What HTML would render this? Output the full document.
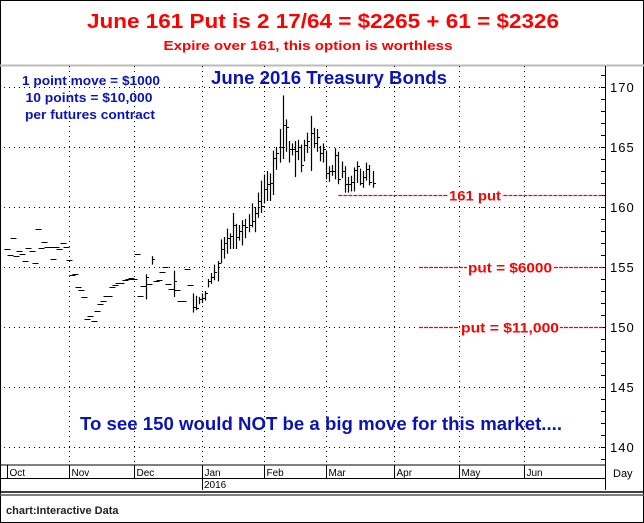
<!DOCTYPE html>
<html><head><meta charset="utf-8"><style>
body{margin:0;background:#fff}
svg{display:block;font-family:"Liberation Sans",Arial,sans-serif}
</style></head><body>
<svg id="chart" width="644" height="523" viewBox="0 0 644 523">
<rect x="0.5" y="0.5" width="643" height="522" fill="#fff" stroke="#000"/>
<text x="323" y="28" text-anchor="middle" font-size="20" font-weight="bold" fill="#ff0000" textLength="472" lengthAdjust="spacingAndGlyphs">June 161 Put is 2 17/64 = $2265 + 61 = $2326</text>
<text x="308" y="50" text-anchor="middle" font-size="13" font-weight="bold" fill="#ff0000" textLength="289" lengthAdjust="spacingAndGlyphs">Expire over 161, this option is worthless</text>
<line x1="0" y1="65.5" x2="644" y2="65.5" stroke="#bbb" stroke-width="2"/>
<g id="grid"></g>
<g id="bars"></g>
<g id="yaxis"></g>
<g id="xaxis"></g>
<text x="91" y="85" text-anchor="middle" font-size="13" font-weight="bold" fill="#0a14b4" textLength="138" lengthAdjust="spacingAndGlyphs">1 point move = $1000</text>
<text x="89" y="102" text-anchor="middle" font-size="13" font-weight="bold" fill="#0a14b4" textLength="127" lengthAdjust="spacingAndGlyphs">10 points = $10,000</text>
<text x="90" y="119" text-anchor="middle" font-size="13" font-weight="bold" fill="#0a14b4" textLength="130" lengthAdjust="spacingAndGlyphs">per futures contract</text>
<text x="329" y="84" text-anchor="middle" font-size="18" font-weight="bold" fill="#0a14b4" textLength="236" lengthAdjust="spacingAndGlyphs">June 2016 Treasury Bonds</text>
<text x="321" y="430" text-anchor="middle" font-size="18" font-weight="bold" fill="#0a14b4" textLength="482" lengthAdjust="spacingAndGlyphs">To see 150 would NOT be a big move for this market....</text>
<g id="puts"></g>
<line x1="0" y1="492" x2="644" y2="492" stroke="#000" stroke-width="1.5"/>
<line x1="0" y1="495" x2="644" y2="495" stroke="#555" stroke-width="1.5"/>
<text x="6" y="514" font-size="11" font-weight="bold" fill="#222">chart:Interactive Data</text>
</svg>
<script>
const highs=[156.5,156.0,157.4,155.9,156.3,156.1,155.5,156.6,156.3,155.3,158.2,156.6,157.1,156.7,156.7,155.7,156.7,156.5,157.0,156.7,155.6,
154.3,154.4,153.3,153.1,152.5,150.7,150.9,150.5,151.3,151.9,152.2,152.6,152.6,153.3,153.5,153.7,153.7,153.9,154.0,154.1,154.0,
156.1,152.6,153.4,154.4,153.6,155.9,153.8,153.9,154.6,155.0,153.6,153.2,154.7,153.1,152.2,152.2,154.8,153.5,152.8,152.6,152.5,
152.8,153.0,154.0,154.5,155.2,155.5,157.3,157.5,158.2,157.8,159.5,158.6,158.5,158.9,159.0,159.4,160.3,160.0,161.2,162.2,
162.7,163.0,162.8,164.7,165.0,166.5,169.3,167.3,165.5,165.3,165.5,165.6,165.2,165.6,166.2,167.6,166.6,166.5,165.1,165.3,
164.7,163.4,163.5,164.9,164.6,163.8,163.4,162.5,162.6,163.3,163.8,163.2,163.0,163.7,163.5,163.0];
const lows=[156.5,156.0,157.4,155.9,156.3,156.1,155.5,156.6,156.3,155.3,158.2,156.6,157.1,156.7,156.7,155.7,156.7,156.5,157.0,156.7,155.6,
154.3,154.4,153.3,153.1,152.5,150.7,150.9,150.5,151.3,151.9,152.2,152.6,152.6,153.3,153.5,153.7,153.7,153.9,154.0,154.1,154.0,
156.1,152.6,153.4,152.3,153.6,155.2,153.8,153.9,154.6,155.0,153.6,153.2,152.5,153.1,152.2,152.2,154.8,153.5,151.2,151.4,151.9,
152.0,152.2,153.3,153.6,153.9,153.8,155.3,155.7,156.1,156.5,156.5,156.5,157.2,156.8,157.4,157.9,158.3,157.9,159.1,159.5,
160.3,160.5,160.5,161.0,163.1,163.7,164.0,164.6,163.7,164.3,162.5,163.9,162.9,163.8,164.5,163.0,164.9,164.6,163.8,163.7,
162.3,162.1,162.6,162.3,161.9,162.4,161.2,161.2,161.3,161.3,162.0,161.8,161.6,162.2,161.8,161.6];
const closes=[156.5,156.0,157.4,155.9,156.3,156.1,155.5,156.6,156.3,155.3,158.2,156.6,157.1,156.7,156.7,155.7,156.7,156.5,157.0,156.7,155.6,
154.3,154.4,153.3,153.1,152.5,150.7,150.9,150.5,151.3,151.9,152.2,152.6,152.6,153.3,153.5,153.7,153.7,153.9,154.0,154.1,154.0,
156.1,152.6,153.4,154.2,153.6,155.7,153.8,153.9,154.6,155.0,153.6,153.2,153.8,153.1,152.2,152.2,154.8,153.5,151.7,151.6,152.3,
152.4,152.8,153.8,154.2,154.6,155.3,156.5,157.0,157.4,157.6,158.5,157.5,158.0,158.5,158.3,158.5,158.8,159.5,160.5,160.1,
161.5,161.9,162.0,164.1,164.5,165.0,166.8,166.7,164.8,164.8,164.7,165.0,163.5,165.2,165.5,166.2,165.3,165.8,164.5,164.8,
162.8,163.0,163.0,164.3,162.3,163.0,161.9,161.9,162.1,163.1,163.4,162.0,162.5,163.2,162.1,162.0];
const months=["Oct","Nov","Dec","Jan","Feb","Mar","Apr","May","Jun"];
const monthStartBar=[0,20,41,63,83,103,125,146,167];
const yTicks=[170,165,160,155,150,145,140];
const putLevels=[161,155,150];
const putLabels=["161 put","put = $6000","put = $11,000"];
const putStartBar=[107,133,133];

const NS="http://www.w3.org/2000/svg";
const plotL=0,plotR=605,plotT=66,plotB=465;
const labelCenters=[475,510,510];
const labelWidths=[52,84,98];
function xs(i){return 202+(i-63)*3.1;}
function ys(v){return 87+(170-v)*12;}
function mk(tag,attrs,parent){const e=document.createElementNS(NS,tag);for(const k in attrs)e.setAttribute(k,attrs[k]);parent.appendChild(e);return e;}
const grid=document.getElementById('grid'),bars=document.getElementById('bars'),ya=document.getElementById('yaxis'),xa=document.getElementById('xaxis'),pg=document.getElementById('puts');

yTicks.forEach(v=>{
  const l=mk('line',{x1:plotL+4,x2:plotR,y1:Math.round(ys(v))+0.5,y2:Math.round(ys(v))+0.5,stroke:'#000','stroke-dasharray':'1,4'},grid);
  
  
  const t=mk('text',{x:610,y:ys(v)+5,'font-size':13,fill:'#000','letter-spacing':'1'},ya);
  t.textContent=v;
  
  
});
for(let v=139;v<=171;v++){
  const y=ys(v);if(y<plotT||y>plotB)continue;
  const tk=mk('line',{x1:601,x2:605,y1:Math.round(y)+0.5,y2:Math.round(y)+0.5,stroke:'#000'},ya);
  
  
}
const al=mk('line',{x1:605.5,x2:605.5,y1:plotT,y2:490,stroke:'#000'},ya);



months.forEach((m,k)=>{
  const x=Math.round(xs(monthStartBar[k]))+0.5;
  if(k>0){
    const g=mk('line',{x1:x,x2:x,y1:plotT,y2:plotB,stroke:'#000','stroke-dasharray':'1,4'},grid);
    
    
  }
  const s=mk('line',{x1:x,x2:x,y1:plotB,y2:478,stroke:'#000'},xa);
  
  
  const t=mk('text',{x:x+2,y:476,'font-size':10,fill:'#000'},xa);
  t.textContent=m;
  
  
});
[[0,plotB,605,plotB],[0,478.5,605,478.5],[202.5,478,202.5,490]].forEach(a=>{
  const l=mk('line',{x1:a[0],y1:a[1],x2:a[2],y2:a[3],stroke:'#000'},xa);
  
  
});
const yr=mk('text',{x:204,y:488,'font-size':10,fill:'#000'},xa);yr.textContent='2016';


const dy=mk('text',{x:613,y:477,'font-size':11,fill:'#000'},xa);dy.textContent='Day';



closes.forEach((c,i)=>{
  const x=Math.round(xs(i))+0.5,h=highs[i],l=lows[i];
  const g=mk('g',{},bars);
  
  
  if(h===l){
    mk('line',{x1:x-3,x2:x+3,y1:Math.round(ys(c))+0.5,y2:Math.round(ys(c))+0.5,stroke:'#000'},g);
  }else{
    mk('line',{x1:x,x2:x,y1:ys(h),y2:ys(l),stroke:'#000','stroke-width':1.2},g);
    mk('line',{x1:x,x2:x+2.5,y1:Math.round(ys(c))+0.5,y2:Math.round(ys(c))+0.5,stroke:'#000'},g);
  }
});

putLevels.forEach((v,k)=>{
  const y=Math.round(ys(v))+0.5,x0=xs(putStartBar[k]);
  const l=mk('line',{x1:x0,x2:604,y1:y,y2:y,stroke:'#ff0000','stroke-width':1.3,'stroke-dasharray':'4,1'},pg);
  
  
  const cx=labelCenters[k],w=labelWidths[k];
  mk('rect',{x:cx-w/2-1,y:y-7,width:w+2,height:12,fill:'#fff'},pg);
  const t=mk('text',{x:cx,y:y+5,'text-anchor':'middle','font-size':14,'font-weight':'bold',fill:'#ff0000',textLength:w,lengthAdjust:'spacingAndGlyphs'},pg);
  t.textContent=putLabels[k];
  
  
});
</script>
</body></html>
